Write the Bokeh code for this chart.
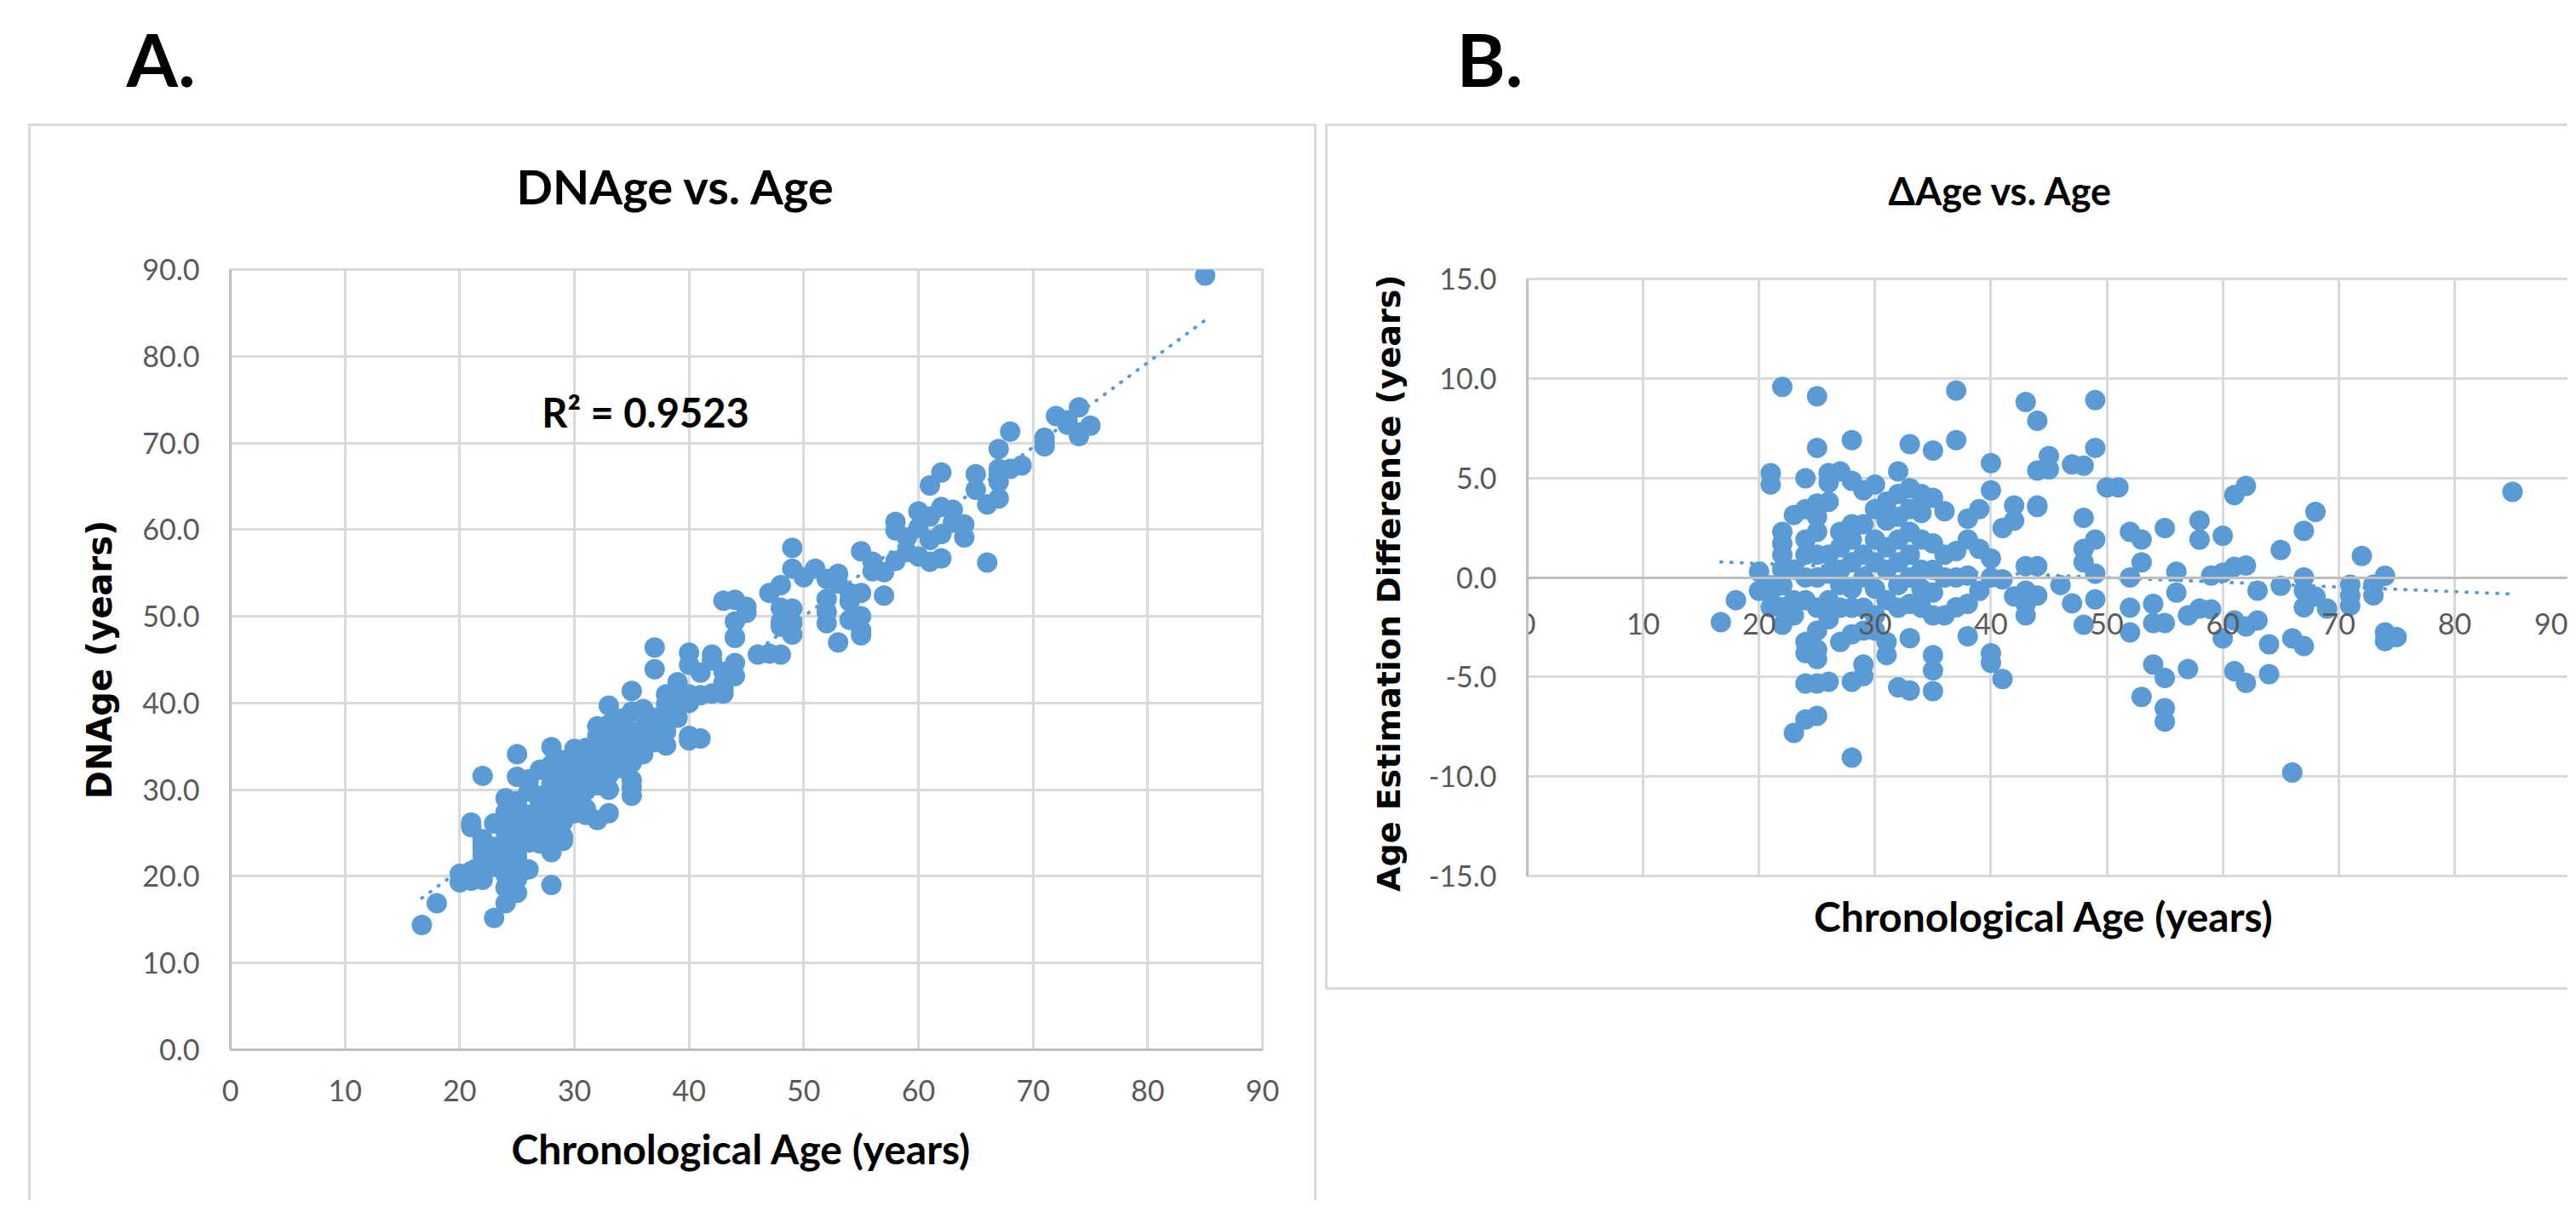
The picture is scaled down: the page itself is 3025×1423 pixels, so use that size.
from bokeh.plotting import figure
from bokeh.models import Range1d, FixedTicker, NumeralTickFormatter, Label, Spacer, Title
from bokeh.layouts import column, row
from bokeh.embed import file_html
from bokeh.resources import INLINE
import numpy as np

# ---------------- data ----------------
chron_age = [16.7, 18,
    20, 20,
    21, 21, 21, 21, 21,
    22, 22, 22, 22, 22, 22, 22, 22,
    23, 23, 23, 23, 23,
    24, 24, 24, 24, 24, 24, 24, 24, 24, 24,
    25, 25, 25, 25, 25, 25, 25, 25, 25, 25, 25, 25, 25,
    26, 26, 26, 26, 26, 26, 26, 26,
    27, 27, 27, 27, 27, 27, 27,
    28, 28, 28, 28, 28, 28, 28, 28, 28, 28,
    29, 29, 29, 29, 29, 29, 29, 29,
    30, 30, 30, 30, 30, 30, 30,
    31, 31, 31, 31, 31, 31, 31,
    32, 32, 32, 32, 32, 32, 32, 32,
    33, 33, 33, 33, 33, 33, 33, 33, 33,
    34, 34, 34, 34, 34, 34,
    35, 35, 35, 35, 35, 35, 35, 35, 35,
    36, 36, 36, 36,
    37, 37, 37, 37, 37,
    38, 38, 38, 38, 38,
    39, 39, 39,
    40, 40, 40, 40, 40, 40,
    41, 41, 41,
    42, 42, 42,
    43, 43, 43, 43, 43,
    44, 44, 44, 44, 44, 44,
    45, 45,
    46,
    47, 47,
    48, 48, 48, 48, 48,
    49, 49, 49, 49, 49,
    50, 51,
    52, 52, 52, 52,
    53, 53, 53,
    54, 54, 54,
    55, 55, 55, 55, 55,
    56, 56,
    57, 57,
    58, 58, 58,
    59, 59,
    60, 60, 60,
    61, 61, 61, 61,
    62, 62, 62, 62,
    63, 63,
    64, 64,
    65, 65,
    66, 66,
    67, 67, 67, 67, 67,
    68, 68,
    69,
    71, 71, 71,
    72,
    73, 73,
    74, 74, 74,
    75,
    85]

dnage = [14.4, 16.9,
    20.3, 19.3,
    26.2, 25.7, 20.6, 20.2, 19.5,
    31.6, 24.3, 23.7, 23.1, 22.4, 21.6, 20.5, 19.6,
    26.1, 23.4, 21.9, 21.1, 15.2,
    29.0, 27.4, 25.9, 25.1, 24.0, 22.9, 20.8, 20.2, 18.7, 16.9,
    34.1, 31.5, 28.7, 28.1, 27.3, 26.1, 25.0, 23.5, 22.3, 21.4, 20.9, 19.7, 18.1,
    31.2, 30.8, 29.8, 27.1, 26.2, 24.9, 23.9, 20.8,
    32.3, 29.3, 28.5, 27.4, 26.6, 25.5, 23.8,
    34.9, 32.9, 30.7, 29.9, 28.8, 27.4, 26.5, 25.1, 22.8, 19.0,
    33.4, 31.7, 30.1, 29.0, 27.5, 26.3, 24.6, 24.1,
    34.7, 33.4, 31.9, 30.8, 29.4, 28.1, 27.3,
    34.8, 33.9, 32.5, 31.4, 29.9, 27.8, 27.1,
    37.3, 36.2, 35.1, 33.9, 32.8, 31.6, 30.5, 26.5,
    39.7, 37.5, 36.4, 35.3, 34.1, 33.0, 31.7, 30.0, 27.3,
    38.2, 37.2, 35.9, 34.4, 33.4, 32.5,
    41.4, 39.0, 36.7, 35.4, 34.2, 33.1, 31.1, 30.3, 29.3,
    39.3, 37.1, 36.0, 34.1,
    46.4, 43.9, 38.3, 37.0, 35.5,
    41.0, 39.9, 38.1, 36.7, 35.1,
    42.4, 40.4, 38.3,
    45.8, 44.4, 41.0, 40.0, 36.2, 35.7,
    43.5, 40.9, 35.9,
    45.6, 44.9, 41.1,
    51.8, 43.6, 42.3, 41.7, 41.1,
    51.9, 49.4, 47.6, 47.5, 44.6, 43.1,
    51.1, 50.4,
    45.6,
    52.7, 45.7,
    53.6, 51.0, 49.4, 48.8, 45.6,
    57.9, 55.5, 50.9, 49.2, 47.9,
    54.5, 55.5,
    54.3, 52.0, 50.5, 49.2,
    54.9, 53.8, 47.0,
    52.7, 51.7, 49.6,
    57.5, 52.7, 50.0, 48.4, 47.8,
    56.3, 55.2,
    55.1, 52.4,
    60.9, 59.9, 56.4,
    59.1, 57.4,
    62.1, 60.2, 56.9,
    65.1, 61.5, 58.8, 56.3,
    66.6, 62.6, 59.5, 56.7,
    62.3, 60.8,
    60.6, 59.1,
    66.4, 64.6,
    62.9, 56.2,
    69.3, 67.0, 66.3, 65.5, 63.6,
    71.3, 67.0,
    67.4,
    70.6, 70.1, 69.6,
    73.1,
    72.6, 72.1,
    74.1, 71.2, 70.8,
    72.0,
    89.3]

age_diff = [-2.25, -1.14,
    0.29, -0.67,
    5.24, 4.67, -0.4, -0.76, -1.5,
    9.58, 2.29, 1.7, 1.14, 0.4, -0.4, -1.5, -2.38,
    3.14, 0.4, -1.14, -1.9, -7.81,
    4.99, 3.43, 1.9, 1.14, 0.0, -1.14, -3.24, -3.8, -5.33, -7.14,
    9.1, 6.51, 3.71, 3.05, 2.29, 1.14, 0.0, -1.52, -2.67, -3.62, -4.1, -5.33, -6.95,
    5.24, 4.76, 3.8, 1.14, 0.19, -1.14, -2.1, -5.24,
    5.33, 2.29, 1.52, 0.38, -0.38, -1.52, -3.24,
    6.9, 4.86, 2.67, 1.9, 0.76, -0.57, -1.52, -2.86, -5.24, -9.05,
    4.38, 2.67, 1.14, 0.0, -1.52, -2.67, -4.38, -4.95,
    4.67, 3.43, 1.9, 0.76, -0.57, -1.9, -2.67,
    3.81, 2.86, 1.52, 0.38, -1.14, -3.24, -3.9,
    5.33, 4.19, 3.05, 1.9, 0.76, -0.38, -1.52, -5.52,
    6.7, 4.48, 3.43, 2.29, 1.14, 0.0, -1.33, -3.05, -5.68,
    4.19, 3.24, 1.9, 0.38, -0.57, -1.52,
    6.38, 4.0, 1.71, 0.38, -0.76, -1.9, -3.9, -4.67, -5.71,
    3.33, 1.14, 0.0, -1.9,
    9.39, 6.9, 1.33, 0.0, -1.5,
    2.95, 1.9, 0.1, -1.33, -2.95,
    3.43, 1.43, -0.67,
    5.75, 4.38, 0.95, 0.0, -3.81, -4.29,
    2.48, -0.1, -5.1,
    3.62, 2.86, -0.95,
    8.82, 0.57, -0.66, -1.33, -1.9,
    7.87, 5.37, 3.62, 3.54, 0.57, -0.91,
    6.1, 5.43,
    -0.38,
    5.68, -1.3,
    5.62, 3.0, 1.43, 0.76, -2.38,
    8.91, 6.51, 1.9, 0.19, -1.1,
    4.53, 4.53,
    2.29, 0.0, -1.52, -2.76,
    1.9, 0.76, -6.0,
    -1.33, -2.29, -4.38,
    2.48, -2.29, -5.05, -6.57, -7.24,
    0.29, -0.76,
    -1.9, -4.6,
    2.86, 1.9, -1.56,
    0.1, -1.6,
    2.1, 0.24, -3.06,
    4.14, 0.54, -2.16, -4.71,
    4.6, 0.6, -2.46, -5.3,
    -0.66, -2.16,
    -3.36, -4.86,
    1.38, -0.42,
    -3.06, -9.8,
    2.34, 0.0, -0.66, -1.5, -3.45,
    3.3, -0.96,
    -1.56,
    -0.36, -0.9, -1.41,
    1.08,
    -0.36, -0.9,
    0.09, -2.76, -3.2,
    -3.0,
    4.3]

x_ticks = [0, 10, 20, 30, 40, 50, 60, 70, 80, 90]
y_ticks_a = [0, 10, 20, 30, 40, 50, 60, 70, 80, 90]
y_ticks_b = [-15, -10, -5, 0, 5, 10, 15]
r2_text = "R\u00b2 = 0.9523"
x_label = "Chronological  Age (years)"

# ---------------- styling ----------------
BLUE = "#5b9bd5"
GRID = "#d9d9d9"
AXIS = "#bfbfbf"
TICK_TXT = "#595959"
FONT = "Lato"
YFONT = "DejaVu Sans"
BORDER = "3px solid #d9d9d9"


def style_common(p, yticks):
    p.xaxis.ticker = FixedTicker(ticks=x_ticks)
    p.yaxis.ticker = FixedTicker(ticks=yticks)
    p.xgrid.ticker = FixedTicker(ticks=x_ticks)
    p.ygrid.ticker = FixedTicker(ticks=yticks)
    p.xaxis.formatter = NumeralTickFormatter(format="0")
    p.yaxis.formatter = NumeralTickFormatter(format="0.0")
    for ax in (p.xaxis, p.yaxis):
        ax.major_tick_line_color = None
        ax.minor_tick_line_color = None
        ax.major_tick_out = 0
        ax.axis_line_color = AXIS
        ax.axis_line_width = 3
        ax.major_label_text_font = FONT
        ax.major_label_text_font_size = "34px"
        ax.major_label_text_color = TICK_TXT
    p.yaxis.major_label_standoff = 36
    p.yaxis.axis_label_text_font = YFONT
    p.yaxis.axis_label_text_font_style = "bold"
    p.yaxis.axis_label_text_color = "#000000"
    p.xgrid.grid_line_color = GRID
    p.ygrid.grid_line_color = GRID
    p.xgrid.grid_line_width = 3
    p.ygrid.grid_line_width = 3
    p.outline_line_color = GRID
    p.outline_line_width = 3
    p.background_fill_color = "white"
    p.border_fill_color = "white"


def add_title(p, text, size, offset, gap):
    # empty-looking spacer title between the frame and the chart title
    p.add_layout(Title(text=" ", text_font_size="1px", standoff=gap), "above")
    p.add_layout(Title(text=text, align="left", offset=offset, standoff=10,
                       text_font=FONT, text_font_style="bold", text_font_size=size,
                       text_color="#000000"), "above")


# ---------------- header with panel letters ----------------
head = figure(width=3024, height=145, x_range=Range1d(0, 3024), y_range=Range1d(0, 145),
              x_axis_location=None, y_axis_location=None, toolbar_location=None,
              output_backend="svg", min_border=0, title=None)
head.grid.visible = False
head.outline_line_color = None
for txt, xpos in (("A.", 148), ("B.", 1710)):
    head.add_layout(Label(x=xpos, y=77, text=txt, text_font=FONT, text_font_style="bold",
                          text_font_size="87px", text_color="#000000",
                          text_align="left", text_baseline="middle"))

# ---------------- panel A ----------------
pA = figure(width=1513, height=1264, x_range=Range1d(0, 90), y_range=Range1d(0, 90),
            title=None, toolbar_location=None, output_backend="svg",
            min_border_left=234, min_border_right=67, min_border_top=168, min_border_bottom=180,
            styles={"border-left": BORDER, "border-top": BORDER, "border-right": BORDER})
style_common(pA, y_ticks_a)
add_title(pA, "DNAge vs. Age", "56px", 336, 57)
pA.xaxis.major_label_standoff = 35
pA.xaxis.axis_label = x_label
pA.xaxis.axis_label_text_font = FONT
pA.xaxis.axis_label_text_font_style = "bold"
pA.xaxis.axis_label_text_font_size = "48px"
pA.xaxis.axis_label_text_color = "#000000"
pA.xaxis.axis_label_standoff = 24
pA.yaxis.axis_label = "DNAge (years)"
pA.yaxis.axis_label_text_font_size = "40px"
pA.yaxis.axis_label_standoff = 24

fitA = np.polyfit(chron_age, dnage, 1)
xs = np.array([min(chron_age), max(chron_age)])
pA.line(xs, np.polyval(fitA, xs), line_color=BLUE, line_width=4, line_dash="1 11", line_cap="round")
pA.scatter(chron_age, dnage, size=24, fill_color=BLUE, line_color=None)
pA.add_layout(Label(x=36.2, y=73.5, text=r2_text, text_align="center", text_baseline="middle",
                    text_font=FONT, text_font_style="bold", text_font_size="47px",
                    text_color="#000000"))

# ---------------- panel B ----------------
pB = figure(width=1459, height=1017, x_range=Range1d(0, 90), y_range=Range1d(-15, 15),
            title=None, toolbar_location=None, output_backend="svg",
            min_border_left=234, min_border_right=0, min_border_top=179, min_border_bottom=137,
            styles={"border-left": BORDER, "border-top": BORDER, "border-bottom": BORDER})
style_common(pB, y_ticks_b)
add_title(pB, "\u0394Age vs. Age", "45px", 424, 69)
pB.xaxis.fixed_location = 0
pB.xaxis.major_label_standoff = 42
pB.yaxis.axis_label = "Age Estimation  Difference (years)"
pB.yaxis.axis_label_text_font_size = "38px"
pB.yaxis.axis_label_standoff = 22
pB.add_layout(Title(text=x_label, align="center", text_font=FONT, text_font_style="bold",
                    text_font_size="48px", text_color="#000000", standoff=32), "below")

fitB = np.polyfit(chron_age, age_diff, 1)
pB.line(xs, np.polyval(fitB, xs), line_color=BLUE, line_width=4, line_dash="1 11", line_cap="round")
pB.scatter(chron_age, age_diff, size=24, fill_color=BLUE, line_color=None)

layout = column(head, row(Spacer(width=33, height=10), column(pA),
                          Spacer(width=10, height=10), column(pB)))

with open("out.html", "w") as f:
    f.write(file_html(layout, INLINE))
